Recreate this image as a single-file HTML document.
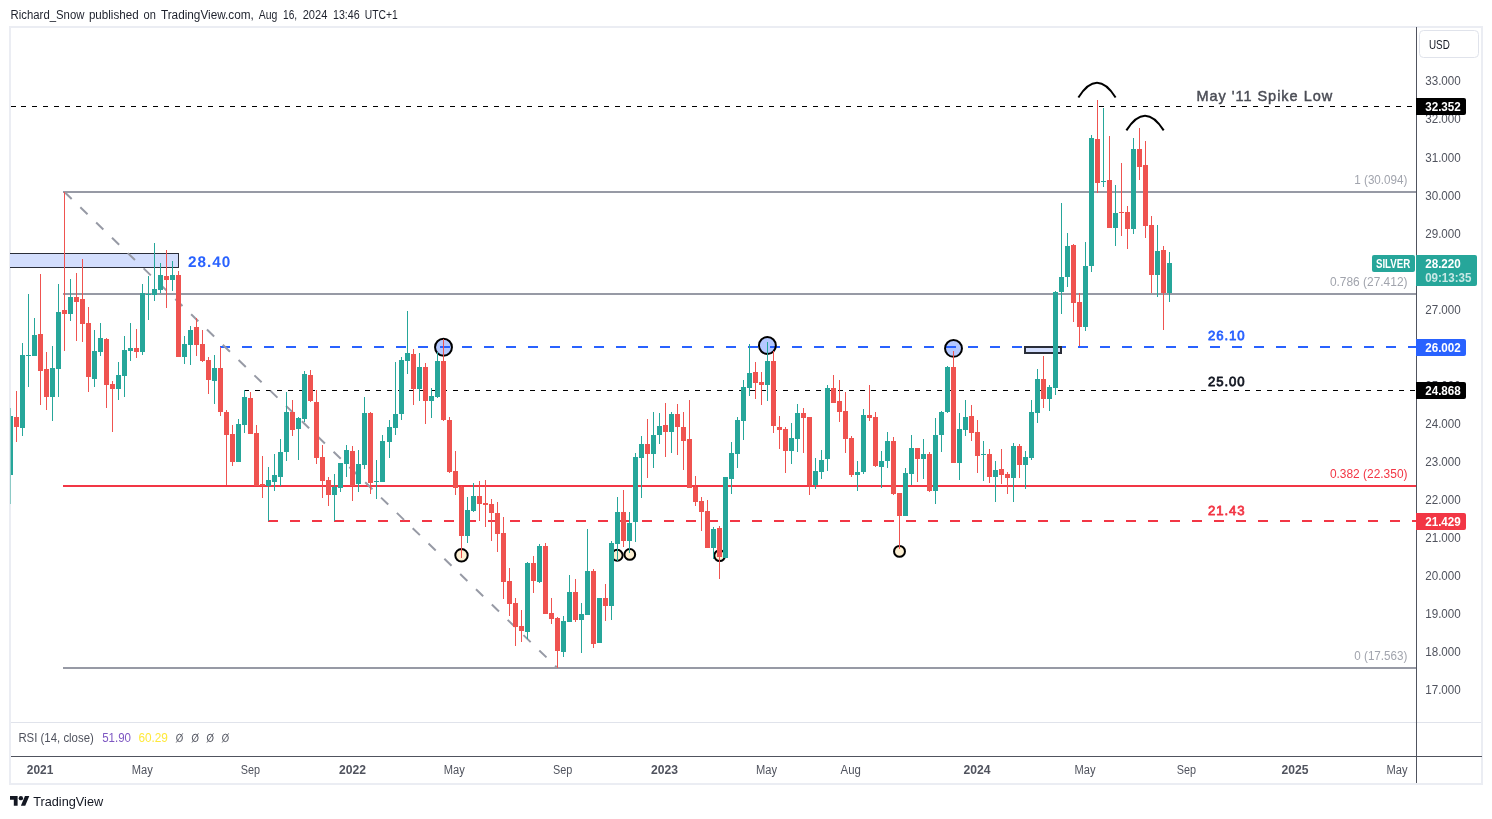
<!DOCTYPE html>
<html><head><meta charset="utf-8"><title>SILVER chart</title>
<style>html,body{margin:0;padding:0;background:#fff;}svg{display:block;will-change:transform;}text{font-family:"Liberation Sans",sans-serif;}</style>
</head><body>
<svg width="1492" height="819" viewBox="0 0 1492 819">
<rect width="1492" height="819" fill="#ffffff"/>
<text x="10.6" y="19" font-size="12" fill="#1e222d" textLength="73.8" lengthAdjust="spacingAndGlyphs">Richard_Snow</text>
<text x="88.9" y="19" font-size="12" fill="#1e222d" textLength="49.7" lengthAdjust="spacingAndGlyphs">published</text>
<text x="143.6" y="19" font-size="12" fill="#1e222d" textLength="12.3" lengthAdjust="spacingAndGlyphs">on</text>
<text x="160.9" y="19" font-size="12" fill="#1e222d" textLength="93.0" lengthAdjust="spacingAndGlyphs">TradingView.com,</text>
<text x="258.8" y="19" font-size="12" fill="#1e222d" textLength="18.6" lengthAdjust="spacingAndGlyphs">Aug</text>
<text x="283" y="19" font-size="12" fill="#1e222d" textLength="14.1" lengthAdjust="spacingAndGlyphs">16,</text>
<text x="302.7" y="19" font-size="12" fill="#1e222d" textLength="24.7" lengthAdjust="spacingAndGlyphs">2024</text>
<text x="333" y="19" font-size="12" fill="#1e222d" textLength="26.7" lengthAdjust="spacingAndGlyphs">13:46</text>
<text x="364.7" y="19" font-size="12" fill="#1e222d" textLength="33.0" lengthAdjust="spacingAndGlyphs">UTC+1</text>
<rect x="10" y="27" width="1472" height="757" fill="none" stroke="#ebedf3" stroke-width="2" shape-rendering="crispEdges"/>
<defs><clipPath id="pane"><rect x="10" y="28" width="1406" height="694"/></clipPath></defs>
<g clip-path="url(#pane)">
<g shape-rendering="crispEdges">
<rect x="63" y="191" width="1353" height="2" fill="#979aa5"/>
<rect x="63" y="293" width="1353" height="2" fill="#979aa5"/>
<rect x="63" y="485" width="1353" height="2" fill="#f23645"/>
<rect x="63" y="667" width="1353" height="2" fill="#979aa5"/>
<line x1="10.5" y1="106.5" x2="1416" y2="106.5" stroke="#000" stroke-width="1" stroke-dasharray="5 5.994"/>
<line x1="244" y1="390.5" x2="1416" y2="390.5" stroke="#000" stroke-width="1" stroke-dasharray="5 6"/>
<line x1="220" y1="347" x2="1416" y2="347" stroke="#2962ff" stroke-width="2" stroke-dasharray="10 12"/>
<line x1="268" y1="521" x2="1416" y2="521" stroke="#f23645" stroke-width="2" stroke-dasharray="10 12"/>
<rect x="9.5" y="253.5" width="169" height="14" fill="#d3defd" stroke="#2a2e39" stroke-width="1"/>
<rect x="1025" y="347" width="36" height="6" fill="#d3defd" stroke="#2a2e39" stroke-width="2"/>
</g>
<line x1="64.5" y1="192" x2="557.5" y2="668" stroke="#979aa5" stroke-width="2" stroke-dasharray="10 12"/>
<circle cx="443.5" cy="347.3" r="8.45" fill="#2962ff" fill-opacity="0.35" stroke="#000" stroke-width="2"/>
<circle cx="767.4" cy="345.5" r="8.45" fill="#2962ff" fill-opacity="0.35" stroke="#000" stroke-width="2"/>
<circle cx="953.5" cy="348.4" r="8.45" fill="#2962ff" fill-opacity="0.35" stroke="#000" stroke-width="2"/>
<circle cx="461.5" cy="555.3" r="6.2" fill="#fdf0d3" stroke="#000" stroke-width="2"/>
<circle cx="617.2" cy="555.3" r="5.45" fill="#fdf0d3" stroke="#000" stroke-width="2"/>
<circle cx="629.8" cy="554.4" r="5.35" fill="#fdf0d3" stroke="#000" stroke-width="2"/>
<circle cx="719.7" cy="555.6" r="5.4" fill="#fdf0d3" stroke="#000" stroke-width="2"/>
<circle cx="899.5" cy="551.4" r="5.45" fill="#fdf0d3" stroke="#000" stroke-width="2"/>
<path d="M1078.4,97.5 Q1097,68.1 1115.6,97.5" fill="none" stroke="#000" stroke-width="2"/>
<path d="M1126.4,130.4 Q1145,101 1163.7,130.4" fill="none" stroke="#000" stroke-width="2"/>
<g shape-rendering="crispEdges">
<rect x="10" y="408" width="1" height="96" fill="#8ccac6"/>
<rect x="11" y="416" width="2" height="59" fill="#26a69a"/>
<rect x="16" y="391" width="1" height="51" fill="#ef5350"/>
<rect x="14" y="417" width="5" height="10" fill="#ef5350"/><rect x="15" y="418" width="3" height="8" fill="#ef5350"/>
<rect x="22" y="343" width="1" height="93" fill="#26a69a"/>
<rect x="20" y="355" width="5" height="73" fill="#26a69a"/><rect x="21" y="356" width="3" height="71" fill="#26a69a"/>
<rect x="28" y="294" width="1" height="93" fill="#26a69a"/>
<rect x="26" y="355" width="5" height="1" fill="#26a69a"/>
<rect x="34" y="318" width="1" height="38" fill="#26a69a"/>
<rect x="32" y="335" width="5" height="21" fill="#26a69a"/><rect x="33" y="336" width="3" height="19" fill="#26a69a"/>
<rect x="40" y="274" width="1" height="131" fill="#ef5350"/>
<rect x="38" y="334" width="5" height="37" fill="#ef5350"/><rect x="39" y="335" width="3" height="35" fill="#ef5350"/>
<rect x="46" y="352" width="1" height="58" fill="#ef5350"/>
<rect x="44" y="369" width="5" height="28" fill="#ef5350"/><rect x="45" y="370" width="3" height="26" fill="#ef5350"/>
<rect x="52" y="346" width="1" height="75" fill="#26a69a"/>
<rect x="50" y="368" width="5" height="29" fill="#26a69a"/><rect x="51" y="369" width="3" height="27" fill="#26a69a"/>
<rect x="58" y="284" width="1" height="113" fill="#26a69a"/>
<rect x="56" y="312" width="5" height="57" fill="#26a69a"/><rect x="57" y="313" width="3" height="55" fill="#26a69a"/>
<rect x="64" y="192" width="1" height="159" fill="#ef5350"/>
<rect x="62" y="310" width="5" height="4" fill="#ef5350"/><rect x="63" y="311" width="3" height="2" fill="#ef5350"/>
<rect x="70" y="279" width="1" height="42" fill="#26a69a"/>
<rect x="68" y="297" width="5" height="17" fill="#26a69a"/><rect x="69" y="298" width="3" height="15" fill="#26a69a"/>
<rect x="76" y="273" width="1" height="68" fill="#ef5350"/>
<rect x="74" y="297" width="5" height="5" fill="#ef5350"/><rect x="75" y="298" width="3" height="3" fill="#ef5350"/>
<rect x="82" y="259" width="1" height="83" fill="#ef5350"/>
<rect x="80" y="299" width="5" height="25" fill="#ef5350"/><rect x="81" y="300" width="3" height="23" fill="#ef5350"/>
<rect x="88" y="307" width="1" height="85" fill="#ef5350"/>
<rect x="86" y="323" width="5" height="54" fill="#ef5350"/><rect x="87" y="324" width="3" height="52" fill="#ef5350"/>
<rect x="94" y="330" width="1" height="57" fill="#26a69a"/>
<rect x="92" y="351" width="5" height="28" fill="#26a69a"/><rect x="93" y="352" width="3" height="26" fill="#26a69a"/>
<rect x="100" y="323" width="1" height="33" fill="#26a69a"/>
<rect x="98" y="338" width="5" height="14" fill="#26a69a"/><rect x="99" y="339" width="3" height="12" fill="#26a69a"/>
<rect x="106" y="338" width="1" height="70" fill="#ef5350"/>
<rect x="104" y="339" width="5" height="46" fill="#ef5350"/><rect x="105" y="340" width="3" height="44" fill="#ef5350"/>
<rect x="112" y="381" width="1" height="51" fill="#ef5350"/>
<rect x="110" y="384" width="5" height="5" fill="#ef5350"/><rect x="111" y="385" width="3" height="3" fill="#ef5350"/>
<rect x="118" y="362" width="1" height="38" fill="#26a69a"/>
<rect x="116" y="375" width="5" height="14" fill="#26a69a"/><rect x="117" y="376" width="3" height="12" fill="#26a69a"/>
<rect x="124" y="336" width="1" height="61" fill="#26a69a"/>
<rect x="122" y="350" width="5" height="26" fill="#26a69a"/><rect x="123" y="351" width="3" height="24" fill="#26a69a"/>
<rect x="130" y="323" width="1" height="38" fill="#26a69a"/>
<rect x="128" y="348" width="5" height="3" fill="#26a69a"/><rect x="129" y="349" width="3" height="1" fill="#26a69a"/>
<rect x="136" y="329" width="1" height="29" fill="#ef5350"/>
<rect x="134" y="348" width="5" height="4" fill="#ef5350"/><rect x="135" y="349" width="3" height="2" fill="#ef5350"/>
<rect x="142" y="284" width="1" height="71" fill="#26a69a"/>
<rect x="140" y="293" width="5" height="59" fill="#26a69a"/><rect x="141" y="294" width="3" height="57" fill="#26a69a"/>
<rect x="148" y="276" width="1" height="44" fill="#26a69a"/>
<rect x="146" y="294" width="5" height="1" fill="#26a69a"/>
<rect x="154" y="243" width="1" height="58" fill="#26a69a"/>
<rect x="152" y="289" width="5" height="6" fill="#26a69a"/><rect x="153" y="290" width="3" height="4" fill="#26a69a"/>
<rect x="160" y="263" width="1" height="30" fill="#26a69a"/>
<rect x="158" y="275" width="5" height="15" fill="#26a69a"/><rect x="159" y="276" width="3" height="13" fill="#26a69a"/>
<rect x="166" y="250" width="1" height="58" fill="#ef5350"/>
<rect x="164" y="276" width="5" height="4" fill="#ef5350"/><rect x="165" y="277" width="3" height="2" fill="#ef5350"/>
<rect x="172" y="261" width="1" height="30" fill="#26a69a"/>
<rect x="170" y="275" width="5" height="5" fill="#26a69a"/><rect x="171" y="276" width="3" height="3" fill="#26a69a"/>
<rect x="178" y="271" width="1" height="86" fill="#ef5350"/>
<rect x="176" y="275" width="5" height="82" fill="#ef5350"/><rect x="177" y="276" width="3" height="80" fill="#ef5350"/>
<rect x="184" y="336" width="1" height="28" fill="#26a69a"/>
<rect x="182" y="344" width="5" height="13" fill="#26a69a"/><rect x="183" y="345" width="3" height="11" fill="#26a69a"/>
<rect x="190" y="326" width="1" height="39" fill="#26a69a"/>
<rect x="188" y="330" width="5" height="15" fill="#26a69a"/><rect x="189" y="331" width="3" height="13" fill="#26a69a"/>
<rect x="196" y="318" width="1" height="38" fill="#ef5350"/>
<rect x="194" y="327" width="5" height="18" fill="#ef5350"/><rect x="195" y="328" width="3" height="16" fill="#ef5350"/>
<rect x="202" y="330" width="1" height="32" fill="#ef5350"/>
<rect x="200" y="344" width="5" height="17" fill="#ef5350"/><rect x="201" y="345" width="3" height="15" fill="#ef5350"/>
<rect x="208" y="357" width="1" height="37" fill="#ef5350"/>
<rect x="206" y="360" width="5" height="20" fill="#ef5350"/><rect x="207" y="361" width="3" height="18" fill="#ef5350"/>
<rect x="214" y="355" width="1" height="49" fill="#26a69a"/>
<rect x="212" y="368" width="5" height="13" fill="#26a69a"/><rect x="213" y="369" width="3" height="11" fill="#26a69a"/>
<rect x="220" y="347" width="1" height="69" fill="#ef5350"/>
<rect x="218" y="368" width="5" height="44" fill="#ef5350"/><rect x="219" y="369" width="3" height="42" fill="#ef5350"/>
<rect x="226" y="410" width="1" height="75" fill="#ef5350"/>
<rect x="224" y="412" width="5" height="23" fill="#ef5350"/><rect x="225" y="413" width="3" height="21" fill="#ef5350"/>
<rect x="232" y="425" width="1" height="41" fill="#ef5350"/>
<rect x="230" y="434" width="5" height="28" fill="#ef5350"/><rect x="231" y="435" width="3" height="26" fill="#ef5350"/>
<rect x="238" y="419" width="1" height="43" fill="#26a69a"/>
<rect x="236" y="424" width="5" height="38" fill="#26a69a"/><rect x="237" y="425" width="3" height="36" fill="#26a69a"/>
<rect x="244" y="390" width="1" height="43" fill="#26a69a"/>
<rect x="242" y="397" width="5" height="28" fill="#26a69a"/><rect x="243" y="398" width="3" height="26" fill="#26a69a"/>
<rect x="250" y="392" width="1" height="42" fill="#ef5350"/>
<rect x="248" y="398" width="5" height="36" fill="#ef5350"/><rect x="249" y="399" width="3" height="34" fill="#ef5350"/>
<rect x="256" y="425" width="1" height="61" fill="#ef5350"/>
<rect x="254" y="433" width="5" height="53" fill="#ef5350"/><rect x="255" y="434" width="3" height="51" fill="#ef5350"/>
<rect x="262" y="456" width="1" height="42" fill="#ef5350"/>
<rect x="260" y="484" width="5" height="2" fill="#ef5350"/>
<rect x="268" y="467" width="1" height="54" fill="#26a69a"/>
<rect x="266" y="480" width="5" height="6" fill="#26a69a"/><rect x="267" y="481" width="3" height="4" fill="#26a69a"/>
<rect x="274" y="454" width="1" height="37" fill="#26a69a"/>
<rect x="272" y="475" width="5" height="7" fill="#26a69a"/><rect x="273" y="476" width="3" height="5" fill="#26a69a"/>
<rect x="280" y="439" width="1" height="47" fill="#26a69a"/>
<rect x="278" y="452" width="5" height="25" fill="#26a69a"/><rect x="279" y="453" width="3" height="23" fill="#26a69a"/>
<rect x="286" y="392" width="1" height="69" fill="#26a69a"/>
<rect x="284" y="412" width="5" height="40" fill="#26a69a"/><rect x="285" y="413" width="3" height="38" fill="#26a69a"/>
<rect x="292" y="400" width="1" height="36" fill="#ef5350"/>
<rect x="290" y="412" width="5" height="18" fill="#ef5350"/><rect x="291" y="413" width="3" height="16" fill="#ef5350"/>
<rect x="298" y="417" width="1" height="43" fill="#26a69a"/>
<rect x="296" y="418" width="5" height="11" fill="#26a69a"/><rect x="297" y="419" width="3" height="9" fill="#26a69a"/>
<rect x="304" y="371" width="1" height="51" fill="#26a69a"/>
<rect x="302" y="374" width="5" height="45" fill="#26a69a"/><rect x="303" y="375" width="3" height="43" fill="#26a69a"/>
<rect x="310" y="370" width="1" height="32" fill="#ef5350"/>
<rect x="308" y="375" width="5" height="26" fill="#ef5350"/><rect x="309" y="376" width="3" height="24" fill="#ef5350"/>
<rect x="316" y="390" width="1" height="74" fill="#ef5350"/>
<rect x="314" y="402" width="5" height="56" fill="#ef5350"/><rect x="315" y="403" width="3" height="54" fill="#ef5350"/>
<rect x="322" y="445" width="1" height="53" fill="#ef5350"/>
<rect x="320" y="457" width="5" height="24" fill="#ef5350"/><rect x="321" y="458" width="3" height="22" fill="#ef5350"/>
<rect x="328" y="477" width="1" height="29" fill="#ef5350"/>
<rect x="326" y="480" width="5" height="15" fill="#ef5350"/><rect x="327" y="481" width="3" height="13" fill="#ef5350"/>
<rect x="334" y="474" width="1" height="47" fill="#26a69a"/>
<rect x="332" y="487" width="5" height="8" fill="#26a69a"/><rect x="333" y="488" width="3" height="6" fill="#26a69a"/>
<rect x="340" y="463" width="1" height="29" fill="#26a69a"/>
<rect x="338" y="463" width="5" height="25" fill="#26a69a"/><rect x="339" y="464" width="3" height="23" fill="#26a69a"/>
<rect x="346" y="445" width="1" height="32" fill="#26a69a"/>
<rect x="344" y="450" width="5" height="14" fill="#26a69a"/><rect x="345" y="451" width="3" height="12" fill="#26a69a"/>
<rect x="352" y="446" width="1" height="55" fill="#ef5350"/>
<rect x="350" y="451" width="5" height="35" fill="#ef5350"/><rect x="351" y="452" width="3" height="33" fill="#ef5350"/>
<rect x="358" y="450" width="1" height="42" fill="#26a69a"/>
<rect x="356" y="464" width="5" height="20" fill="#26a69a"/><rect x="357" y="465" width="3" height="18" fill="#26a69a"/>
<rect x="364" y="397" width="1" height="72" fill="#26a69a"/>
<rect x="362" y="413" width="5" height="52" fill="#26a69a"/><rect x="363" y="414" width="3" height="50" fill="#26a69a"/>
<rect x="370" y="412" width="1" height="82" fill="#ef5350"/>
<rect x="368" y="413" width="5" height="70" fill="#ef5350"/><rect x="369" y="414" width="3" height="68" fill="#ef5350"/>
<rect x="376" y="460" width="1" height="39" fill="#26a69a"/>
<rect x="374" y="481" width="5" height="1" fill="#26a69a"/>
<rect x="382" y="435" width="1" height="47" fill="#26a69a"/>
<rect x="380" y="441" width="5" height="41" fill="#26a69a"/><rect x="381" y="442" width="3" height="39" fill="#26a69a"/>
<rect x="389" y="420" width="1" height="38" fill="#26a69a"/>
<rect x="387" y="427" width="5" height="15" fill="#26a69a"/><rect x="388" y="428" width="3" height="13" fill="#26a69a"/>
<rect x="395" y="362" width="1" height="73" fill="#26a69a"/>
<rect x="393" y="414" width="5" height="14" fill="#26a69a"/><rect x="394" y="415" width="3" height="12" fill="#26a69a"/>
<rect x="401" y="357" width="1" height="63" fill="#26a69a"/>
<rect x="399" y="360" width="5" height="54" fill="#26a69a"/><rect x="400" y="361" width="3" height="52" fill="#26a69a"/>
<rect x="407" y="311" width="1" height="63" fill="#26a69a"/>
<rect x="405" y="353" width="5" height="8" fill="#26a69a"/><rect x="406" y="354" width="3" height="6" fill="#26a69a"/>
<rect x="413" y="349" width="1" height="56" fill="#ef5350"/>
<rect x="411" y="354" width="5" height="35" fill="#ef5350"/><rect x="412" y="355" width="3" height="33" fill="#ef5350"/>
<rect x="419" y="353" width="1" height="48" fill="#26a69a"/>
<rect x="417" y="367" width="5" height="22" fill="#26a69a"/><rect x="418" y="368" width="3" height="20" fill="#26a69a"/>
<rect x="425" y="363" width="1" height="61" fill="#ef5350"/>
<rect x="423" y="367" width="5" height="34" fill="#ef5350"/><rect x="424" y="368" width="3" height="32" fill="#ef5350"/>
<rect x="431" y="388" width="1" height="30" fill="#26a69a"/>
<rect x="429" y="396" width="5" height="5" fill="#26a69a"/><rect x="430" y="397" width="3" height="3" fill="#26a69a"/>
<rect x="437" y="352" width="1" height="46" fill="#26a69a"/>
<rect x="435" y="361" width="5" height="36" fill="#26a69a"/><rect x="436" y="362" width="3" height="34" fill="#26a69a"/>
<rect x="443" y="339" width="1" height="82" fill="#ef5350"/>
<rect x="441" y="361" width="5" height="59" fill="#ef5350"/><rect x="442" y="362" width="3" height="57" fill="#ef5350"/>
<rect x="449" y="417" width="1" height="56" fill="#ef5350"/>
<rect x="447" y="420" width="5" height="52" fill="#ef5350"/><rect x="448" y="421" width="3" height="50" fill="#ef5350"/>
<rect x="455" y="451" width="1" height="44" fill="#ef5350"/>
<rect x="453" y="471" width="5" height="17" fill="#ef5350"/><rect x="454" y="472" width="3" height="15" fill="#ef5350"/>
<rect x="461" y="486" width="1" height="72" fill="#ef5350"/>
<rect x="459" y="487" width="5" height="49" fill="#ef5350"/><rect x="460" y="488" width="3" height="47" fill="#ef5350"/>
<rect x="467" y="497" width="1" height="46" fill="#26a69a"/>
<rect x="465" y="510" width="5" height="26" fill="#26a69a"/><rect x="466" y="511" width="3" height="24" fill="#26a69a"/>
<rect x="473" y="483" width="1" height="29" fill="#26a69a"/>
<rect x="471" y="496" width="5" height="15" fill="#26a69a"/><rect x="472" y="497" width="3" height="13" fill="#26a69a"/>
<rect x="479" y="481" width="1" height="40" fill="#ef5350"/>
<rect x="477" y="496" width="5" height="8" fill="#ef5350"/><rect x="478" y="497" width="3" height="6" fill="#ef5350"/>
<rect x="485" y="480" width="1" height="47" fill="#ef5350"/>
<rect x="483" y="503" width="5" height="2" fill="#ef5350"/>
<rect x="491" y="499" width="1" height="42" fill="#ef5350"/>
<rect x="489" y="504" width="5" height="9" fill="#ef5350"/><rect x="490" y="505" width="3" height="7" fill="#ef5350"/>
<rect x="497" y="502" width="1" height="50" fill="#ef5350"/>
<rect x="495" y="513" width="5" height="21" fill="#ef5350"/><rect x="496" y="514" width="3" height="19" fill="#ef5350"/>
<rect x="503" y="517" width="1" height="82" fill="#ef5350"/>
<rect x="501" y="533" width="5" height="49" fill="#ef5350"/><rect x="502" y="534" width="3" height="47" fill="#ef5350"/>
<rect x="509" y="568" width="1" height="48" fill="#ef5350"/>
<rect x="507" y="581" width="5" height="23" fill="#ef5350"/><rect x="508" y="582" width="3" height="21" fill="#ef5350"/>
<rect x="515" y="598" width="1" height="48" fill="#ef5350"/>
<rect x="513" y="603" width="5" height="24" fill="#ef5350"/><rect x="514" y="604" width="3" height="22" fill="#ef5350"/>
<rect x="521" y="610" width="1" height="32" fill="#ef5350"/>
<rect x="519" y="626" width="5" height="5" fill="#ef5350"/><rect x="520" y="627" width="3" height="3" fill="#ef5350"/>
<rect x="527" y="562" width="1" height="77" fill="#26a69a"/>
<rect x="525" y="563" width="5" height="69" fill="#26a69a"/><rect x="526" y="564" width="3" height="67" fill="#26a69a"/>
<rect x="533" y="556" width="1" height="37" fill="#ef5350"/>
<rect x="531" y="563" width="5" height="18" fill="#ef5350"/><rect x="532" y="564" width="3" height="16" fill="#ef5350"/>
<rect x="539" y="544" width="1" height="39" fill="#26a69a"/>
<rect x="537" y="546" width="5" height="36" fill="#26a69a"/><rect x="538" y="547" width="3" height="34" fill="#26a69a"/>
<rect x="545" y="543" width="1" height="71" fill="#ef5350"/>
<rect x="543" y="546" width="5" height="68" fill="#ef5350"/><rect x="544" y="547" width="3" height="66" fill="#ef5350"/>
<rect x="551" y="598" width="1" height="26" fill="#ef5350"/>
<rect x="549" y="613" width="5" height="6" fill="#ef5350"/><rect x="550" y="614" width="3" height="4" fill="#ef5350"/>
<rect x="557" y="617" width="1" height="51" fill="#ef5350"/>
<rect x="555" y="618" width="5" height="33" fill="#ef5350"/><rect x="556" y="619" width="3" height="31" fill="#ef5350"/>
<rect x="563" y="616" width="1" height="41" fill="#26a69a"/>
<rect x="561" y="621" width="5" height="31" fill="#26a69a"/><rect x="562" y="622" width="3" height="29" fill="#26a69a"/>
<rect x="569" y="575" width="1" height="47" fill="#26a69a"/>
<rect x="567" y="592" width="5" height="30" fill="#26a69a"/><rect x="568" y="593" width="3" height="28" fill="#26a69a"/>
<rect x="575" y="579" width="1" height="43" fill="#ef5350"/>
<rect x="573" y="592" width="5" height="28" fill="#ef5350"/><rect x="574" y="593" width="3" height="26" fill="#ef5350"/>
<rect x="581" y="603" width="1" height="50" fill="#26a69a"/>
<rect x="579" y="614" width="5" height="6" fill="#26a69a"/><rect x="580" y="615" width="3" height="4" fill="#26a69a"/>
<rect x="587" y="529" width="1" height="86" fill="#26a69a"/>
<rect x="585" y="571" width="5" height="44" fill="#26a69a"/><rect x="586" y="572" width="3" height="42" fill="#26a69a"/>
<rect x="593" y="569" width="1" height="79" fill="#ef5350"/>
<rect x="591" y="571" width="5" height="73" fill="#ef5350"/><rect x="592" y="572" width="3" height="71" fill="#ef5350"/>
<rect x="599" y="598" width="1" height="45" fill="#26a69a"/>
<rect x="597" y="598" width="5" height="45" fill="#26a69a"/><rect x="598" y="599" width="3" height="43" fill="#26a69a"/>
<rect x="605" y="584" width="1" height="37" fill="#ef5350"/>
<rect x="603" y="598" width="5" height="8" fill="#ef5350"/><rect x="604" y="599" width="3" height="6" fill="#ef5350"/>
<rect x="611" y="541" width="1" height="79" fill="#26a69a"/>
<rect x="609" y="543" width="5" height="63" fill="#26a69a"/><rect x="610" y="544" width="3" height="61" fill="#26a69a"/>
<rect x="617" y="497" width="1" height="64" fill="#26a69a"/>
<rect x="615" y="512" width="5" height="32" fill="#26a69a"/><rect x="616" y="513" width="3" height="30" fill="#26a69a"/>
<rect x="623" y="490" width="1" height="57" fill="#ef5350"/>
<rect x="621" y="512" width="5" height="29" fill="#ef5350"/><rect x="622" y="513" width="3" height="27" fill="#ef5350"/>
<rect x="629" y="512" width="1" height="41" fill="#26a69a"/>
<rect x="627" y="523" width="5" height="18" fill="#26a69a"/><rect x="628" y="524" width="3" height="16" fill="#26a69a"/>
<rect x="635" y="453" width="1" height="89" fill="#26a69a"/>
<rect x="633" y="457" width="5" height="65" fill="#26a69a"/><rect x="634" y="458" width="3" height="63" fill="#26a69a"/>
<rect x="641" y="436" width="1" height="62" fill="#26a69a"/>
<rect x="639" y="444" width="5" height="14" fill="#26a69a"/><rect x="640" y="445" width="3" height="12" fill="#26a69a"/>
<rect x="647" y="419" width="1" height="59" fill="#ef5350"/>
<rect x="645" y="444" width="5" height="10" fill="#ef5350"/><rect x="646" y="445" width="3" height="8" fill="#ef5350"/>
<rect x="653" y="412" width="1" height="56" fill="#26a69a"/>
<rect x="651" y="435" width="5" height="19" fill="#26a69a"/><rect x="652" y="436" width="3" height="17" fill="#26a69a"/>
<rect x="659" y="413" width="1" height="31" fill="#26a69a"/>
<rect x="657" y="426" width="5" height="9" fill="#26a69a"/><rect x="658" y="427" width="3" height="7" fill="#26a69a"/>
<rect x="665" y="403" width="1" height="54" fill="#ef5350"/>
<rect x="663" y="425" width="5" height="7" fill="#ef5350"/><rect x="664" y="426" width="3" height="5" fill="#ef5350"/>
<rect x="671" y="412" width="1" height="41" fill="#26a69a"/>
<rect x="669" y="414" width="5" height="18" fill="#26a69a"/><rect x="670" y="415" width="3" height="16" fill="#26a69a"/>
<rect x="677" y="404" width="1" height="51" fill="#ef5350"/>
<rect x="675" y="414" width="5" height="13" fill="#ef5350"/><rect x="676" y="415" width="3" height="11" fill="#ef5350"/>
<rect x="683" y="412" width="1" height="58" fill="#ef5350"/>
<rect x="681" y="427" width="5" height="14" fill="#ef5350"/><rect x="682" y="428" width="3" height="12" fill="#ef5350"/>
<rect x="689" y="400" width="1" height="88" fill="#ef5350"/>
<rect x="687" y="439" width="5" height="49" fill="#ef5350"/><rect x="688" y="440" width="3" height="47" fill="#ef5350"/>
<rect x="695" y="476" width="1" height="30" fill="#ef5350"/>
<rect x="693" y="487" width="5" height="15" fill="#ef5350"/><rect x="694" y="488" width="3" height="13" fill="#ef5350"/>
<rect x="701" y="497" width="1" height="34" fill="#ef5350"/>
<rect x="699" y="501" width="5" height="11" fill="#ef5350"/><rect x="700" y="502" width="3" height="9" fill="#ef5350"/>
<rect x="707" y="500" width="1" height="48" fill="#ef5350"/>
<rect x="705" y="511" width="5" height="37" fill="#ef5350"/><rect x="706" y="512" width="3" height="35" fill="#ef5350"/>
<rect x="713" y="527" width="1" height="32" fill="#26a69a"/>
<rect x="711" y="529" width="5" height="19" fill="#26a69a"/><rect x="712" y="530" width="3" height="17" fill="#26a69a"/>
<rect x="719" y="526" width="1" height="53" fill="#ef5350"/>
<rect x="717" y="528" width="5" height="29" fill="#ef5350"/><rect x="718" y="529" width="3" height="27" fill="#ef5350"/>
<rect x="725" y="477" width="1" height="81" fill="#26a69a"/>
<rect x="723" y="477" width="5" height="81" fill="#26a69a"/><rect x="724" y="478" width="3" height="79" fill="#26a69a"/>
<rect x="731" y="442" width="1" height="52" fill="#26a69a"/>
<rect x="729" y="453" width="5" height="26" fill="#26a69a"/><rect x="730" y="454" width="3" height="24" fill="#26a69a"/>
<rect x="737" y="417" width="1" height="51" fill="#26a69a"/>
<rect x="735" y="420" width="5" height="34" fill="#26a69a"/><rect x="736" y="421" width="3" height="32" fill="#26a69a"/>
<rect x="743" y="380" width="1" height="60" fill="#26a69a"/>
<rect x="741" y="387" width="5" height="34" fill="#26a69a"/><rect x="742" y="388" width="3" height="32" fill="#26a69a"/>
<rect x="749" y="344" width="1" height="52" fill="#26a69a"/>
<rect x="747" y="373" width="5" height="15" fill="#26a69a"/><rect x="748" y="374" width="3" height="13" fill="#26a69a"/>
<rect x="755" y="362" width="1" height="37" fill="#ef5350"/>
<rect x="753" y="372" width="5" height="11" fill="#ef5350"/><rect x="754" y="373" width="3" height="9" fill="#ef5350"/>
<rect x="761" y="372" width="1" height="33" fill="#ef5350"/>
<rect x="759" y="382" width="5" height="3" fill="#ef5350"/><rect x="760" y="383" width="3" height="1" fill="#ef5350"/>
<rect x="767" y="342" width="1" height="59" fill="#26a69a"/>
<rect x="765" y="361" width="5" height="24" fill="#26a69a"/><rect x="766" y="362" width="3" height="22" fill="#26a69a"/>
<rect x="773" y="351" width="1" height="82" fill="#ef5350"/>
<rect x="771" y="361" width="5" height="65" fill="#ef5350"/><rect x="772" y="362" width="3" height="63" fill="#ef5350"/>
<rect x="779" y="416" width="1" height="33" fill="#ef5350"/>
<rect x="777" y="427" width="5" height="3" fill="#ef5350"/><rect x="778" y="428" width="3" height="1" fill="#ef5350"/>
<rect x="785" y="427" width="1" height="46" fill="#ef5350"/>
<rect x="783" y="429" width="5" height="22" fill="#ef5350"/><rect x="784" y="430" width="3" height="20" fill="#ef5350"/>
<rect x="791" y="423" width="1" height="41" fill="#26a69a"/>
<rect x="789" y="438" width="5" height="13" fill="#26a69a"/><rect x="790" y="439" width="3" height="11" fill="#26a69a"/>
<rect x="797" y="404" width="1" height="48" fill="#26a69a"/>
<rect x="795" y="413" width="5" height="26" fill="#26a69a"/><rect x="796" y="414" width="3" height="24" fill="#26a69a"/>
<rect x="803" y="408" width="1" height="45" fill="#ef5350"/>
<rect x="801" y="413" width="5" height="5" fill="#ef5350"/><rect x="802" y="414" width="3" height="3" fill="#ef5350"/>
<rect x="809" y="417" width="1" height="78" fill="#ef5350"/>
<rect x="807" y="417" width="5" height="68" fill="#ef5350"/><rect x="808" y="418" width="3" height="66" fill="#ef5350"/>
<rect x="815" y="458" width="1" height="31" fill="#26a69a"/>
<rect x="813" y="471" width="5" height="14" fill="#26a69a"/><rect x="814" y="472" width="3" height="12" fill="#26a69a"/>
<rect x="821" y="450" width="1" height="29" fill="#26a69a"/>
<rect x="819" y="460" width="5" height="12" fill="#26a69a"/><rect x="820" y="461" width="3" height="10" fill="#26a69a"/>
<rect x="827" y="385" width="1" height="86" fill="#26a69a"/>
<rect x="825" y="388" width="5" height="71" fill="#26a69a"/><rect x="826" y="389" width="3" height="69" fill="#26a69a"/>
<rect x="833" y="375" width="1" height="28" fill="#ef5350"/>
<rect x="831" y="388" width="5" height="15" fill="#ef5350"/><rect x="832" y="389" width="3" height="13" fill="#ef5350"/>
<rect x="839" y="380" width="1" height="42" fill="#ef5350"/>
<rect x="837" y="401" width="5" height="11" fill="#ef5350"/><rect x="838" y="402" width="3" height="9" fill="#ef5350"/>
<rect x="845" y="392" width="1" height="61" fill="#ef5350"/>
<rect x="843" y="411" width="5" height="28" fill="#ef5350"/><rect x="844" y="412" width="3" height="26" fill="#ef5350"/>
<rect x="851" y="436" width="1" height="41" fill="#ef5350"/>
<rect x="849" y="438" width="5" height="37" fill="#ef5350"/><rect x="850" y="439" width="3" height="35" fill="#ef5350"/>
<rect x="857" y="461" width="1" height="30" fill="#26a69a"/>
<rect x="855" y="472" width="5" height="3" fill="#26a69a"/><rect x="856" y="473" width="3" height="1" fill="#26a69a"/>
<rect x="863" y="409" width="1" height="65" fill="#26a69a"/>
<rect x="861" y="415" width="5" height="57" fill="#26a69a"/><rect x="862" y="416" width="3" height="55" fill="#26a69a"/>
<rect x="869" y="385" width="1" height="36" fill="#ef5350"/>
<rect x="867" y="415" width="5" height="3" fill="#ef5350"/><rect x="868" y="416" width="3" height="1" fill="#ef5350"/>
<rect x="875" y="412" width="1" height="55" fill="#ef5350"/>
<rect x="873" y="417" width="5" height="49" fill="#ef5350"/><rect x="874" y="418" width="3" height="47" fill="#ef5350"/>
<rect x="881" y="451" width="1" height="37" fill="#26a69a"/>
<rect x="879" y="461" width="5" height="6" fill="#26a69a"/><rect x="880" y="462" width="3" height="4" fill="#26a69a"/>
<rect x="887" y="432" width="1" height="36" fill="#26a69a"/>
<rect x="885" y="441" width="5" height="20" fill="#26a69a"/><rect x="886" y="442" width="3" height="18" fill="#26a69a"/>
<rect x="893" y="437" width="1" height="58" fill="#ef5350"/>
<rect x="891" y="441" width="5" height="53" fill="#ef5350"/><rect x="892" y="442" width="3" height="51" fill="#ef5350"/>
<rect x="899" y="493" width="1" height="56" fill="#ef5350"/>
<rect x="897" y="493" width="5" height="23" fill="#ef5350"/><rect x="898" y="494" width="3" height="21" fill="#ef5350"/>
<rect x="905" y="468" width="1" height="48" fill="#26a69a"/>
<rect x="903" y="473" width="5" height="43" fill="#26a69a"/><rect x="904" y="474" width="3" height="41" fill="#26a69a"/>
<rect x="911" y="435" width="1" height="50" fill="#26a69a"/>
<rect x="909" y="448" width="5" height="26" fill="#26a69a"/><rect x="910" y="449" width="3" height="24" fill="#26a69a"/>
<rect x="917" y="448" width="1" height="34" fill="#ef5350"/>
<rect x="915" y="448" width="5" height="11" fill="#ef5350"/><rect x="916" y="449" width="3" height="9" fill="#ef5350"/>
<rect x="923" y="439" width="1" height="40" fill="#26a69a"/>
<rect x="921" y="454" width="5" height="5" fill="#26a69a"/><rect x="922" y="455" width="3" height="3" fill="#26a69a"/>
<rect x="929" y="452" width="1" height="40" fill="#ef5350"/>
<rect x="927" y="454" width="5" height="37" fill="#ef5350"/><rect x="928" y="455" width="3" height="35" fill="#ef5350"/>
<rect x="935" y="418" width="1" height="86" fill="#26a69a"/>
<rect x="933" y="435" width="5" height="56" fill="#26a69a"/><rect x="934" y="436" width="3" height="54" fill="#26a69a"/>
<rect x="941" y="411" width="1" height="41" fill="#26a69a"/>
<rect x="939" y="412" width="5" height="23" fill="#26a69a"/><rect x="940" y="413" width="3" height="21" fill="#26a69a"/>
<rect x="947" y="366" width="1" height="47" fill="#26a69a"/>
<rect x="945" y="367" width="5" height="45" fill="#26a69a"/><rect x="946" y="368" width="3" height="43" fill="#26a69a"/>
<rect x="953" y="351" width="1" height="112" fill="#ef5350"/>
<rect x="951" y="367" width="5" height="96" fill="#ef5350"/><rect x="952" y="368" width="3" height="94" fill="#ef5350"/>
<rect x="959" y="413" width="1" height="67" fill="#26a69a"/>
<rect x="957" y="429" width="5" height="34" fill="#26a69a"/><rect x="958" y="430" width="3" height="32" fill="#26a69a"/>
<rect x="965" y="400" width="1" height="36" fill="#26a69a"/>
<rect x="963" y="417" width="5" height="13" fill="#26a69a"/><rect x="964" y="418" width="3" height="11" fill="#26a69a"/>
<rect x="971" y="405" width="1" height="36" fill="#ef5350"/>
<rect x="969" y="416" width="5" height="17" fill="#ef5350"/><rect x="970" y="417" width="3" height="15" fill="#ef5350"/>
<rect x="977" y="420" width="1" height="53" fill="#ef5350"/>
<rect x="975" y="432" width="5" height="24" fill="#ef5350"/><rect x="976" y="433" width="3" height="22" fill="#ef5350"/>
<rect x="983" y="441" width="1" height="40" fill="#26a69a"/>
<rect x="981" y="454" width="5" height="1" fill="#26a69a"/>
<rect x="989" y="449" width="1" height="34" fill="#ef5350"/>
<rect x="987" y="454" width="5" height="23" fill="#ef5350"/><rect x="988" y="455" width="3" height="21" fill="#ef5350"/>
<rect x="995" y="461" width="1" height="41" fill="#26a69a"/>
<rect x="993" y="470" width="5" height="7" fill="#26a69a"/><rect x="994" y="471" width="3" height="5" fill="#26a69a"/>
<rect x="1001" y="449" width="1" height="35" fill="#ef5350"/>
<rect x="999" y="469" width="5" height="6" fill="#ef5350"/><rect x="1000" y="470" width="3" height="4" fill="#ef5350"/>
<rect x="1007" y="472" width="1" height="22" fill="#ef5350"/>
<rect x="1005" y="474" width="5" height="4" fill="#ef5350"/><rect x="1006" y="475" width="3" height="2" fill="#ef5350"/>
<rect x="1013" y="443" width="1" height="59" fill="#26a69a"/>
<rect x="1011" y="446" width="5" height="32" fill="#26a69a"/><rect x="1012" y="447" width="3" height="30" fill="#26a69a"/>
<rect x="1019" y="444" width="1" height="34" fill="#ef5350"/>
<rect x="1017" y="446" width="5" height="19" fill="#ef5350"/><rect x="1018" y="447" width="3" height="17" fill="#ef5350"/>
<rect x="1025" y="451" width="1" height="38" fill="#26a69a"/>
<rect x="1023" y="457" width="5" height="8" fill="#26a69a"/><rect x="1024" y="458" width="3" height="6" fill="#26a69a"/>
<rect x="1031" y="400" width="1" height="60" fill="#26a69a"/>
<rect x="1029" y="412" width="5" height="46" fill="#26a69a"/><rect x="1030" y="413" width="3" height="44" fill="#26a69a"/>
<rect x="1037" y="369" width="1" height="54" fill="#26a69a"/>
<rect x="1035" y="379" width="5" height="34" fill="#26a69a"/><rect x="1036" y="380" width="3" height="32" fill="#26a69a"/>
<rect x="1043" y="356" width="1" height="52" fill="#ef5350"/>
<rect x="1041" y="379" width="5" height="20" fill="#ef5350"/><rect x="1042" y="380" width="3" height="18" fill="#ef5350"/>
<rect x="1049" y="385" width="1" height="26" fill="#26a69a"/>
<rect x="1047" y="387" width="5" height="12" fill="#26a69a"/><rect x="1048" y="388" width="3" height="10" fill="#26a69a"/>
<rect x="1055" y="291" width="1" height="104" fill="#26a69a"/>
<rect x="1053" y="292" width="5" height="96" fill="#26a69a"/><rect x="1054" y="293" width="3" height="94" fill="#26a69a"/>
<rect x="1061" y="203" width="1" height="111" fill="#26a69a"/>
<rect x="1059" y="277" width="5" height="15" fill="#26a69a"/><rect x="1060" y="278" width="3" height="13" fill="#26a69a"/>
<rect x="1067" y="233" width="1" height="54" fill="#26a69a"/>
<rect x="1065" y="246" width="5" height="31" fill="#26a69a"/><rect x="1066" y="247" width="3" height="29" fill="#26a69a"/>
<rect x="1073" y="244" width="1" height="78" fill="#ef5350"/>
<rect x="1071" y="245" width="5" height="58" fill="#ef5350"/><rect x="1072" y="246" width="3" height="56" fill="#ef5350"/>
<rect x="1079" y="293" width="1" height="53" fill="#ef5350"/>
<rect x="1077" y="302" width="5" height="25" fill="#ef5350"/><rect x="1078" y="303" width="3" height="23" fill="#ef5350"/>
<rect x="1085" y="242" width="1" height="89" fill="#26a69a"/>
<rect x="1083" y="266" width="5" height="61" fill="#26a69a"/><rect x="1084" y="267" width="3" height="59" fill="#26a69a"/>
<rect x="1091" y="135" width="1" height="137" fill="#26a69a"/>
<rect x="1089" y="138" width="5" height="128" fill="#26a69a"/><rect x="1090" y="139" width="3" height="126" fill="#26a69a"/>
<rect x="1097" y="100" width="1" height="93" fill="#ef5350"/>
<rect x="1095" y="139" width="5" height="44" fill="#ef5350"/><rect x="1096" y="140" width="3" height="42" fill="#ef5350"/>
<rect x="1103" y="108" width="1" height="79" fill="#26a69a"/>
<rect x="1101" y="181" width="5" height="1" fill="#26a69a"/>
<rect x="1109" y="136" width="1" height="92" fill="#ef5350"/>
<rect x="1107" y="180" width="5" height="48" fill="#ef5350"/><rect x="1108" y="181" width="3" height="46" fill="#ef5350"/>
<rect x="1115" y="185" width="1" height="61" fill="#26a69a"/>
<rect x="1113" y="213" width="5" height="15" fill="#26a69a"/><rect x="1114" y="214" width="3" height="13" fill="#26a69a"/>
<rect x="1121" y="163" width="1" height="73" fill="#ef5350"/>
<rect x="1119" y="212" width="5" height="1" fill="#ef5350"/>
<rect x="1127" y="206" width="1" height="43" fill="#ef5350"/>
<rect x="1125" y="212" width="5" height="17" fill="#ef5350"/><rect x="1126" y="213" width="3" height="15" fill="#ef5350"/>
<rect x="1133" y="138" width="1" height="96" fill="#26a69a"/>
<rect x="1131" y="149" width="5" height="80" fill="#26a69a"/><rect x="1132" y="150" width="3" height="78" fill="#26a69a"/>
<rect x="1139" y="128" width="1" height="52" fill="#ef5350"/>
<rect x="1137" y="149" width="5" height="18" fill="#ef5350"/><rect x="1138" y="150" width="3" height="16" fill="#ef5350"/>
<rect x="1145" y="141" width="1" height="97" fill="#ef5350"/>
<rect x="1143" y="165" width="5" height="61" fill="#ef5350"/><rect x="1144" y="166" width="3" height="59" fill="#ef5350"/>
<rect x="1151" y="216" width="1" height="77" fill="#ef5350"/>
<rect x="1149" y="225" width="5" height="50" fill="#ef5350"/><rect x="1150" y="226" width="3" height="48" fill="#ef5350"/>
<rect x="1157" y="225" width="1" height="72" fill="#26a69a"/>
<rect x="1155" y="251" width="5" height="24" fill="#26a69a"/><rect x="1156" y="252" width="3" height="22" fill="#26a69a"/>
<rect x="1163" y="246" width="1" height="84" fill="#ef5350"/>
<rect x="1161" y="250" width="5" height="43" fill="#ef5350"/><rect x="1162" y="251" width="3" height="41" fill="#ef5350"/>
<rect x="1169" y="252" width="1" height="50" fill="#26a69a"/>
<rect x="1167" y="263" width="5" height="30" fill="#26a69a"/><rect x="1168" y="264" width="3" height="28" fill="#26a69a"/>
</g>
<text x="187.9" y="267" font-size="15.3" font-weight="bold" style="text-rendering:geometricPrecision" fill="#2962ff" textLength="42.4" lengthAdjust="spacing">28.40</text>
<text x="1196.4" y="101" font-size="14.5" fill="#4a4c55" stroke="#4a4c55" stroke-width="0.45" textLength="135.8" lengthAdjust="spacing">May '11 Spike Low</text>
<text x="1208.1" y="340.3" font-size="13.2" style="text-rendering:geometricPrecision" fill="#2962ff" stroke="#2962ff" stroke-width="0.75" stroke-linejoin="round" textLength="36.4" lengthAdjust="spacing">26.10</text>
<text x="1208.1" y="385.9" font-size="13.2" style="text-rendering:geometricPrecision" fill="#131722" stroke="#131722" stroke-width="0.75" stroke-linejoin="round" textLength="36.4" lengthAdjust="spacing">25.00</text>
<text x="1208.1" y="514.9" font-size="13.2" style="text-rendering:geometricPrecision" fill="#f23645" stroke="#f23645" stroke-width="0.75" stroke-linejoin="round" textLength="36.4" lengthAdjust="spacing">21.43</text>
<text x="1354.3" y="184" font-size="12" fill="#a1a4ad" textLength="53.1" lengthAdjust="spacingAndGlyphs">1 (30.094)</text>
<text x="1329.9" y="285.7" font-size="12" fill="#a1a4ad" textLength="77.6" lengthAdjust="spacingAndGlyphs">0.786 (27.412)</text>
<text x="1329.9" y="478" font-size="12" fill="#f23645" textLength="77.6" lengthAdjust="spacingAndGlyphs">0.382 (22.350)</text>
<text x="1354.3" y="660" font-size="12" fill="#a1a4ad" textLength="53.1" lengthAdjust="spacingAndGlyphs">0 (17.563)</text>
<rect x="1372" y="255" width="43" height="17" rx="2" fill="#26a69a"/>
<text x="1375.9" y="267.7" font-size="12" font-weight="bold" fill="#fff" textLength="34.4" lengthAdjust="spacingAndGlyphs">SILVER</text>
</g>
<g shape-rendering="crispEdges">
<rect x="11" y="722" width="1470" height="1" fill="#e0e3eb"/>
<rect x="1416" y="27" width="1" height="756" fill="#50535e"/>
<rect x="11" y="756" width="1471" height="1" fill="#50535e"/>
</g>
<rect x="1419.5" y="30.5" width="59" height="27" rx="4" fill="#fff" stroke="#e0e3eb" stroke-width="1"/>
<text x="1429" y="49" font-size="12" fill="#131722" textLength="20.8" lengthAdjust="spacingAndGlyphs">USD</text>
<text x="1425.2" y="84.8" font-size="12" fill="#50535e" textLength="35.6" lengthAdjust="spacingAndGlyphs">33.000</text>
<text x="1425.2" y="122.8" font-size="12" fill="#50535e" textLength="35.6" lengthAdjust="spacingAndGlyphs">32.000</text>
<text x="1425.2" y="161.8" font-size="12" fill="#50535e" textLength="35.6" lengthAdjust="spacingAndGlyphs">31.000</text>
<text x="1425.2" y="199.8" font-size="12" fill="#50535e" textLength="35.6" lengthAdjust="spacingAndGlyphs">30.000</text>
<text x="1425.2" y="237.8" font-size="12" fill="#50535e" textLength="35.6" lengthAdjust="spacingAndGlyphs">29.000</text>
<text x="1425.2" y="275.8" font-size="12" fill="#50535e" textLength="35.6" lengthAdjust="spacingAndGlyphs">28.000</text>
<text x="1425.2" y="313.7" font-size="12" fill="#50535e" textLength="35.6" lengthAdjust="spacingAndGlyphs">27.000</text>
<text x="1425.2" y="351.7" font-size="12" fill="#50535e" textLength="35.6" lengthAdjust="spacingAndGlyphs">26.000</text>
<text x="1425.2" y="389.7" font-size="12" fill="#50535e" textLength="35.6" lengthAdjust="spacingAndGlyphs">25.000</text>
<text x="1425.2" y="427.7" font-size="12" fill="#50535e" textLength="35.6" lengthAdjust="spacingAndGlyphs">24.000</text>
<text x="1425.2" y="465.7" font-size="12" fill="#50535e" textLength="35.6" lengthAdjust="spacingAndGlyphs">23.000</text>
<text x="1425.2" y="503.7" font-size="12" fill="#50535e" textLength="35.6" lengthAdjust="spacingAndGlyphs">22.000</text>
<text x="1425.2" y="541.7" font-size="12" fill="#50535e" textLength="35.6" lengthAdjust="spacingAndGlyphs">21.000</text>
<text x="1425.2" y="579.7" font-size="12" fill="#50535e" textLength="35.6" lengthAdjust="spacingAndGlyphs">20.000</text>
<text x="1425.2" y="617.7" font-size="12" fill="#50535e" textLength="35.6" lengthAdjust="spacingAndGlyphs">19.000</text>
<text x="1425.2" y="655.7" font-size="12" fill="#50535e" textLength="35.6" lengthAdjust="spacingAndGlyphs">18.000</text>
<text x="1425.2" y="693.6" font-size="12" fill="#50535e" textLength="35.6" lengthAdjust="spacingAndGlyphs">17.000</text>
<path d="M1416,98 h48 a2,2 0 0 1 2,2 v13 a2,2 0 0 1 -2,2 h-48 z" fill="#000000"/>
<text x="1425.2" y="111" font-size="12" font-weight="bold" fill="#fff" textLength="35.6" lengthAdjust="spacingAndGlyphs">32.352</text>
<path d="M1416,339 h48 a2,2 0 0 1 2,2 v13 a2,2 0 0 1 -2,2 h-48 z" fill="#2962ff"/>
<text x="1425.2" y="352" font-size="12" font-weight="bold" fill="#fff" textLength="35.6" lengthAdjust="spacingAndGlyphs">26.002</text>
<path d="M1416,382 h48 a2,2 0 0 1 2,2 v13 a2,2 0 0 1 -2,2 h-48 z" fill="#000000"/>
<text x="1425.2" y="394.8" font-size="12" font-weight="bold" fill="#fff" textLength="35.6" lengthAdjust="spacingAndGlyphs">24.868</text>
<path d="M1416,513 h48 a2,2 0 0 1 2,2 v13 a2,2 0 0 1 -2,2 h-48 z" fill="#f23645"/>
<text x="1425.2" y="525.8" font-size="12" font-weight="bold" fill="#fff" textLength="35.6" lengthAdjust="spacingAndGlyphs">21.429</text>
<path d="M1416,255 h59 a2,2 0 0 1 2,2 v27 a2,2 0 0 1 -2,2 h-59 z" fill="#26a69a"/>
<text x="1425.2" y="267.7" font-size="12" font-weight="bold" fill="#fff" textLength="35.6" lengthAdjust="spacingAndGlyphs">28.220</text>
<text x="1425.2" y="281.6" font-size="12" font-weight="bold" fill="#c8e8e5" textLength="46.2" lengthAdjust="spacingAndGlyphs">09:13:35</text>
<text x="18.4" y="742" font-size="12" fill="#50535e" textLength="75.4" lengthAdjust="spacingAndGlyphs">RSI (14, close)</text>
<text x="102.2" y="742" font-size="12" fill="#7e57c2" textLength="28.8" lengthAdjust="spacingAndGlyphs">51.90</text>
<text x="138.4" y="742" font-size="12" fill="#ffe93b" textLength="29.5" lengthAdjust="spacingAndGlyphs">60.29</text>
<g stroke="#50535e" stroke-width="1" fill="none"><ellipse cx="179.5" cy="737.9" rx="2.9" ry="3.7"/><line x1="176.2" y1="742.6" x2="182.8" y2="733.3" stroke-width="0.8"/></g>
<g stroke="#50535e" stroke-width="1" fill="none"><ellipse cx="195.2" cy="737.9" rx="2.9" ry="3.7"/><line x1="191.9" y1="742.6" x2="198.5" y2="733.3" stroke-width="0.8"/></g>
<g stroke="#50535e" stroke-width="1" fill="none"><ellipse cx="210.2" cy="737.9" rx="2.9" ry="3.7"/><line x1="206.9" y1="742.6" x2="213.5" y2="733.3" stroke-width="0.8"/></g>
<g stroke="#50535e" stroke-width="1" fill="none"><ellipse cx="225.4" cy="737.9" rx="2.9" ry="3.7"/><line x1="222.1" y1="742.6" x2="228.7" y2="733.3" stroke-width="0.8"/></g>
<text x="26.8" y="774" font-size="12" font-weight="bold" fill="#50535e" textLength="26.5" lengthAdjust="spacingAndGlyphs">2021</text>
<text x="131.8" y="774" font-size="12" fill="#50535e" textLength="21" lengthAdjust="spacingAndGlyphs">May</text>
<text x="240.8" y="774" font-size="12" fill="#50535e" textLength="19.3" lengthAdjust="spacingAndGlyphs">Sep</text>
<text x="339.0" y="774" font-size="12" font-weight="bold" fill="#50535e" textLength="27" lengthAdjust="spacingAndGlyphs">2022</text>
<text x="443.8" y="774" font-size="12" fill="#50535e" textLength="21" lengthAdjust="spacingAndGlyphs">May</text>
<text x="553.0" y="774" font-size="12" fill="#50535e" textLength="19.3" lengthAdjust="spacingAndGlyphs">Sep</text>
<text x="651.1" y="774" font-size="12" font-weight="bold" fill="#50535e" textLength="27" lengthAdjust="spacingAndGlyphs">2023</text>
<text x="756.0" y="774" font-size="12" fill="#50535e" textLength="21" lengthAdjust="spacingAndGlyphs">May</text>
<text x="840.6" y="774" font-size="12" fill="#50535e" textLength="20.3" lengthAdjust="spacingAndGlyphs">Aug</text>
<text x="963.5" y="774" font-size="12" font-weight="bold" fill="#50535e" textLength="27" lengthAdjust="spacingAndGlyphs">2024</text>
<text x="1074.5" y="774" font-size="12" fill="#50535e" textLength="21" lengthAdjust="spacingAndGlyphs">May</text>
<text x="1176.8" y="774" font-size="12" fill="#50535e" textLength="19.3" lengthAdjust="spacingAndGlyphs">Sep</text>
<text x="1281.5" y="774" font-size="12" font-weight="bold" fill="#50535e" textLength="27" lengthAdjust="spacingAndGlyphs">2025</text>
<text x="1386.5" y="774" font-size="12" fill="#50535e" textLength="21" lengthAdjust="spacingAndGlyphs">May</text>
<g fill="#131722">
<g transform="translate(10,793.82) scale(0.544)"><path d="M14 22H7V11H0V4h14v18zM28 22h-8l7.5-18h8L28 22z"/><circle cx="20" cy="8" r="4"/></g>
<text x="33.2" y="806" font-size="13" fill="#131722" textLength="70" lengthAdjust="spacingAndGlyphs">TradingView</text>
</g>
</svg></body></html>
